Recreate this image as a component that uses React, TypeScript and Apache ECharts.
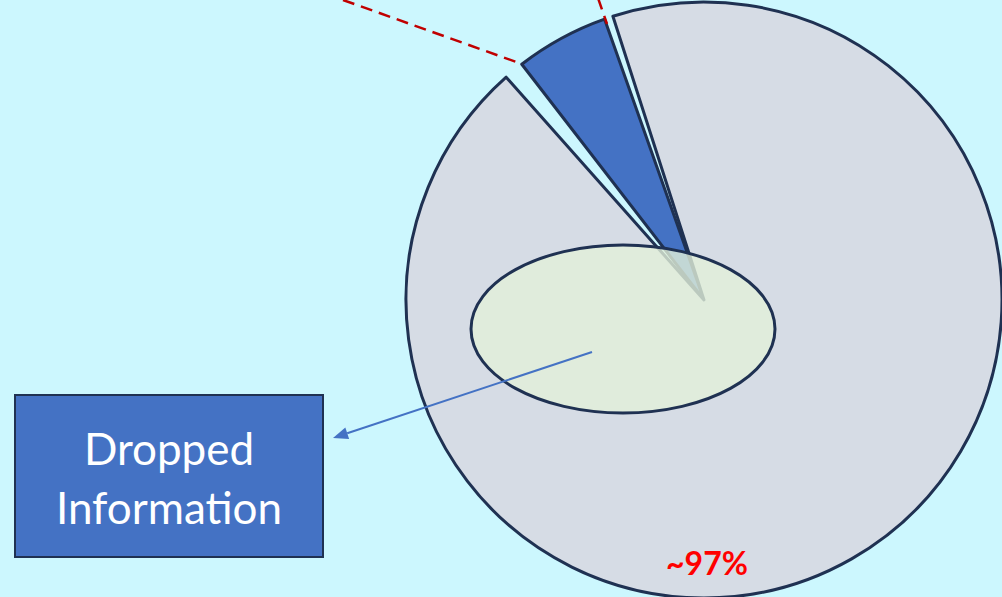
import React, { useEffect, useRef } from "react";
import * as echarts from "echarts";

// Pie slices, measured as angles (degrees) from the picture, in clockwise order
const sliceNames = ["Retained", "gap-a", "Dropped", "gap-b"];
const sliceValues = [18.2, 1.7, 336.2, 3.9];
const sliceColors = ["#4472c4", "transparent", "#d6dce5", "transparent"];
const startAngle = 127.7;

const boxLines = ["Dropped", "Information"];
const percentLabel = "~97%";

export default function App() {
  const ref = useRef<HTMLDivElement>(null);

  useEffect(() => {
    if (!ref.current) return;
    document.body.style.margin = "0";
    const chart = echarts.init(ref.current, undefined, { renderer: "svg" });
    const navy = "#1f3152";

    const data = sliceNames.map((name, i) => {
      const gap = sliceColors[i] === "transparent";
      return {
        name,
        value: sliceValues[i],
        itemStyle: gap
          ? { color: "rgba(0,0,0,0)", borderWidth: 0 }
          : { color: sliceColors[i], borderColor: navy, borderWidth: 3 },
      };
    });

    // arrow geometry
    const a0 = [592, 352];
    const a1 = [333, 438];
    const dx = a1[0] - a0[0];
    const dy = a1[1] - a0[1];
    const len = Math.hypot(dx, dy);
    const ux = dx / len;
    const uy = dy / len;
    const hl = 15;
    const hw = 6;
    const bx = a1[0] - ux * hl;
    const by = a1[1] - uy * hl;
    const px = -uy;
    const py = ux;

    chart.setOption({
      animation: false,
      backgroundColor: "#ccf7fe",
      tooltip: { show: false },
      series: [
        {
          type: "pie",
          center: [704, 300],
          radius: 298,
          startAngle,
          clockwise: true,
          silent: true,
          label: { show: false },
          labelLine: { show: false },
          emphasis: { disabled: true },
          data,
        },
      ],
      graphic: [
        {
          type: "line",
          z: 100,
          shape: { x1: 343, y1: 0, x2: 522, y2: 64 },
          style: { stroke: "#c00000", lineWidth: 2.5, lineDash: [12, 7] },
        },
        {
          type: "line",
          z: 100,
          shape: { x1: 598, y1: -2, x2: 607, y2: 24 },
          style: { stroke: "#c00000", lineWidth: 2.5, lineDash: [12, 7] },
        },
        {
          type: "ellipse",
          z: 100,
          shape: { cx: 623, cy: 329, rx: 152, ry: 84 },
          style: { fill: "rgba(226,240,217,0.8)", stroke: navy, lineWidth: 3 },
        },
        {
          type: "line",
          z: 101,
          shape: { x1: a0[0], y1: a0[1], x2: bx, y2: by },
          style: { stroke: "#4472c4", lineWidth: 2 },
        },
        {
          type: "polygon",
          z: 101,
          shape: {
            points: [
              [a1[0], a1[1]],
              [bx + px * hw, by + py * hw],
              [bx - px * hw, by - py * hw],
            ],
          },
          style: { fill: "#4472c4" },
        },
        {
          type: "rect",
          z: 100,
          shape: { x: 15, y: 395, width: 308, height: 162 },
          style: { fill: "#4472c4", stroke: navy, lineWidth: 2 },
        },
        {
          type: "text",
          z: 102,
          x: 169,
          y: 477,
          style: {
            text: boxLines.join("\n"),
            fill: "#ffffff",
            font: "44px Lato",
            align: "center",
            verticalAlign: "middle",
            lineHeight: 59,
          },
        },
        {
          type: "text",
          z: 102,
          x: 707,
          y: 562,
          style: {
            text: percentLabel,
            fill: "#ff0000",
            font: "bold 32px Lato",
            align: "center",
            verticalAlign: "middle",
          },
        },
      ],
    });

    return () => chart.dispose();
  }, []);

  return (
    <div style={{ position: "fixed", left: 0, top: 0, width: 1002, height: 597 }}>
      <div ref={ref} style={{ width: 1002, height: 597 }} />
    </div>
  );
}
